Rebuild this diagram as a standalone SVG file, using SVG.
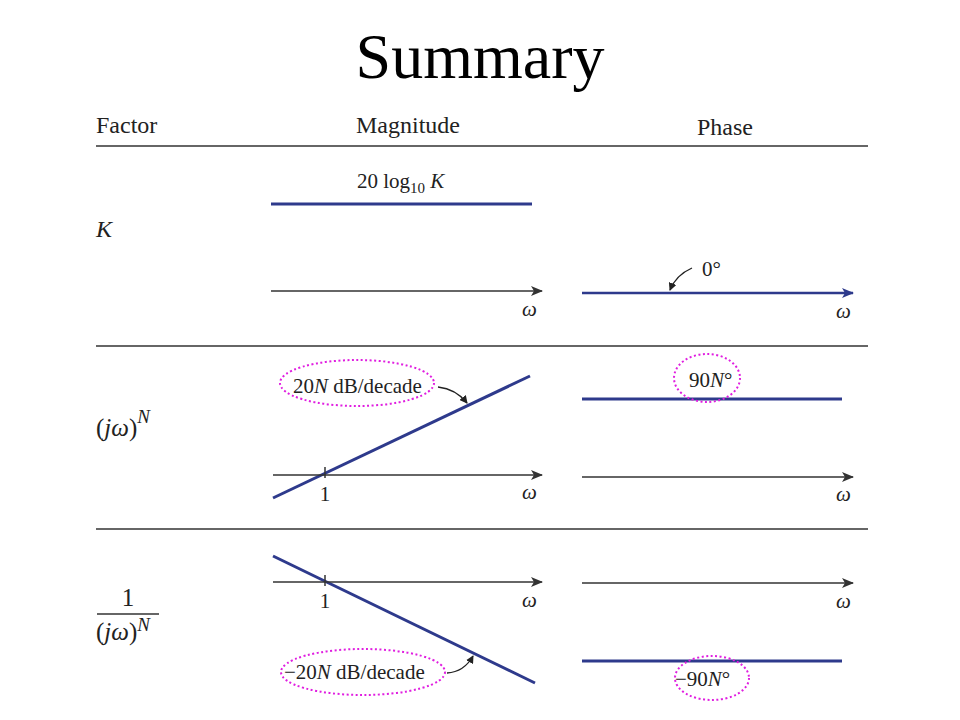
<svg xmlns="http://www.w3.org/2000/svg" width="960" height="720" viewBox="0 0 960 720">
<style>
text{font-family:"Liberation Serif","Times New Roman",serif;fill:#222;}
.h{font-size:24px;}
.f{font-size:25px;}
.l{font-size:21px;}
.i{font-style:italic;}
.rule{stroke:#333;stroke-width:1.6;}
.ax{stroke:#333;stroke-width:1.5;fill:none;}
.blue{stroke:#2e3a8c;stroke-width:3;fill:none;}
.ell{fill:none;stroke:#e01ee0;stroke-width:2;stroke-dasharray:2 2.5;}
.call{stroke:#222;stroke-width:1.3;fill:none;}
</style>
<defs>
<marker id="ah" viewBox="0 0 12 10" refX="11" refY="5" markerWidth="12" markerHeight="10" markerUnits="userSpaceOnUse" orient="auto">
<path d="M0,0 L12,5 L0,10 L3,5 Z" fill="#333"/>
</marker>
<marker id="ahb" viewBox="0 0 12 10" refX="11" refY="5" markerWidth="12" markerHeight="10" markerUnits="userSpaceOnUse" orient="auto">
<path d="M0,0 L12,5 L0,10 L3,5 Z" fill="#2e3a8c"/>
</marker>
<marker id="sm" viewBox="0 0 8 8" refX="7" refY="4" markerWidth="8" markerHeight="8" markerUnits="userSpaceOnUse" orient="auto">
<path d="M0,0 L8,4 L0,8 Z" fill="#222"/>
</marker>
</defs>
<rect width="960" height="720" fill="#fff"/>
<text x="480" y="78" font-size="64" text-anchor="middle" style="fill:#000">Summary</text>

<g id="header">
<text class="h" x="96" y="133">Factor</text>
<text class="h" x="356" y="133">Magnitude</text>
<text class="h" x="697" y="135">Phase</text>
<line class="rule" x1="96" y1="146" x2="868" y2="146"/>
<line class="rule" x1="96" y1="346" x2="868" y2="346"/>
<line class="rule" x1="96" y1="529" x2="868" y2="529"/>
</g>

<g id="row-K">
<text class="h i" x="96" y="237">K</text>
<text class="l" x="357" y="188">20 log<tspan font-size="15" dy="5">10</tspan><tspan dy="-5" font-style="italic"> K</tspan></text>
<line class="blue" x1="271" y1="204" x2="532" y2="204"/>
<text class="l i" x="522" y="316">ω</text>
<text class="l" x="702" y="276">0°</text>
<text class="l i" x="836" y="318">ω</text>
</g>

<g id="row-jwN">
<text class="f" x="96" y="436">(<tspan font-style="italic">jω</tspan>)<tspan font-size="19" dy="-13" font-style="italic">N</tspan></text>
<line class="blue" x1="273" y1="498" x2="530" y2="376"/>
<line class="ax" x1="325" y1="467" x2="325" y2="478"/>
<text class="l" x="325" y="501" text-anchor="middle">1</text>
<text class="l i" x="522" y="499">ω</text>
<ellipse class="ell" cx="357" cy="383" rx="77" ry="23"/>
<text class="l" x="293" y="393">20<tspan font-style="italic">N</tspan> dB/decade</text>
<line class="blue" x1="582" y1="399" x2="842" y2="399"/>
<ellipse class="ell" cx="707" cy="378" rx="33" ry="24"/>
<text class="l" x="689" y="387">90<tspan font-style="italic">N</tspan>°</text>
<text class="l i" x="836" y="501">ω</text>
</g>

<g id="row-inv">
<text class="f" x="128" y="606" text-anchor="middle">1</text>
<line x1="97" y1="614" x2="159" y2="614" stroke="#333" stroke-width="1.4"/>
<text class="f" x="96" y="640">(<tspan font-style="italic">jω</tspan>)<tspan font-size="19" dy="-9" font-style="italic">N</tspan></text>
<line class="blue" x1="273" y1="556" x2="535" y2="683"/>
<line class="ax" x1="325" y1="575" x2="325" y2="586"/>
<text class="l" x="325" y="608" text-anchor="middle">1</text>
<text class="l i" x="522" y="607">ω</text>
<ellipse class="ell" cx="363" cy="672" rx="82" ry="23"/>
<text class="l" x="284" y="679">−20<tspan font-style="italic">N</tspan> dB/decade</text>
<line class="blue" x1="582" y1="661" x2="842" y2="661"/>
<ellipse class="ell" cx="712" cy="678" rx="37" ry="22"/>
<text class="l" x="675" y="686">−90<tspan font-style="italic">N</tspan>°</text>
<text class="l i" x="836" y="608">ω</text>
</g>

<g id="connectors">
<line class="ax" x1="271" y1="291" x2="542" y2="291" marker-end="url(#ah)"/>
<line class="blue" x1="582" y1="293" x2="853" y2="293" marker-end="url(#ahb)" style="stroke-width:2.5"/>
<path class="call" d="M692,268 Q676,275 670,290" marker-end="url(#sm)"/>
<line class="ax" x1="273" y1="475" x2="542" y2="475" marker-end="url(#ah)"/>
<path class="call" d="M438,387 Q456,389 467,403" marker-end="url(#sm)"/>
<line class="ax" x1="582" y1="477" x2="853" y2="477" marker-end="url(#ah)"/>
<line class="ax" x1="273" y1="582" x2="542" y2="582" marker-end="url(#ah)"/>
<path class="call" d="M447,673 Q464,672 473,656" marker-end="url(#sm)"/>
<line class="ax" x1="582" y1="583" x2="853" y2="583" marker-end="url(#ah)"/>
</g>
</svg>
